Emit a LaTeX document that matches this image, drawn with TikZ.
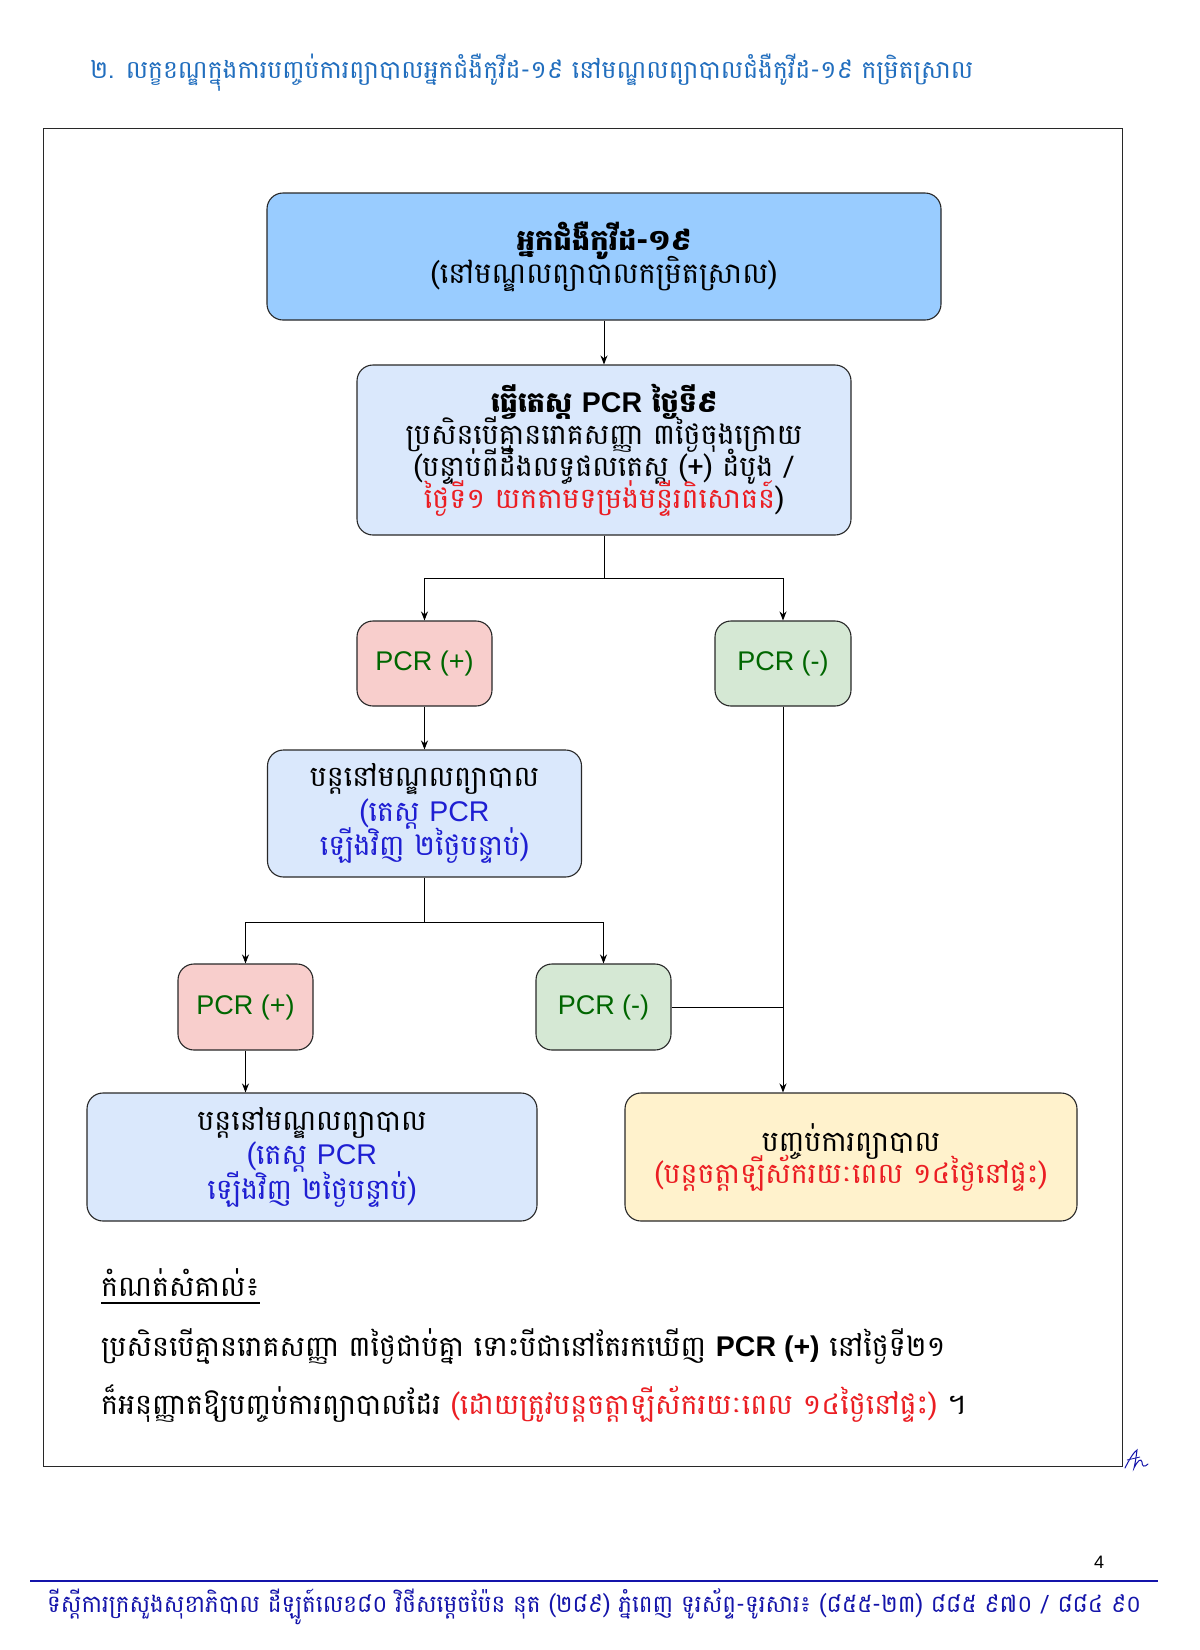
\documentclass[tikz,border=0pt]{standalone}
\usepackage{fontspec}
\setmainfont{Liberation Sans}
\newfontfamily\kh[Script=Khmer]{Battambang}
\newfontfamily\la{Liberation Sans}
\usetikzlibrary{arrows.meta}
\definecolor{titleblue}{RGB}{33,110,190}
\definecolor{bonefill}{RGB}{153,204,255}
\definecolor{btwofill}{RGB}{218,232,252}
\definecolor{pfill}{RGB}{248,206,204}
\definecolor{mfill}{RGB}{213,232,212}
\definecolor{efill}{RGB}{255,242,204}
\definecolor{pcrgreen}{RGB}{0,102,0}
\definecolor{txtred}{RGB}{235,30,35}
\definecolor{txtblue}{RGB}{30,30,210}
\definecolor{footblue}{RGB}{20,20,170}
\definecolor{edge}{RGB}{40,40,40}
\tikzset{
  box/.style={draw=edge, line width=1.1pt, rounded corners=16pt, align=center, inner sep=0pt,
    font=\kh\fontsize{28.5}{32}\selectfont,
    execute at begin node={\lineskiplimit=-100pt\lineskip=0pt\relax}},
  pcrbox/.style={box, text=pcrgreen, font=\la\fontsize{27}{30}\selectfont},
  contbox/.style={box, fill=btwofill, font=\kh\fontsize{28.5}{34.5}\selectfont},
  conn/.style={line width=1pt, draw=black},
  arr/.style={conn, -{Stealth[length=9pt,width=7pt]}},
  notetext/.style={anchor=base west, inner sep=0pt, font=\kh\fontsize{28.5}{30}\selectfont},
}
\begin{document}
\begin{tikzpicture}[x=1pt,y=-1pt]
\useasboundingbox[fill=white] (0,0) rectangle (1200,1650);
% title
\node[anchor=base west, inner sep=0pt, text=titleblue, font=\kh\fontsize{25}{30}\selectfont] (title) at (90,78)
  {២. លក្ខខណ្ឌក្នុងការបញ្ចប់ការព្យាបាលអ្នកជំងឺកូវីដ-១៩ នៅមណ្ឌលព្យាបាលជំងឺកូវីដ-១៩ កម្រិតស្រាល};
% frame
\draw[line width=0.9pt, draw=edge] (43,128) rectangle (1122,1466);
% boxes
\node[box, fill=bonefill, minimum width=674pt, minimum height=127pt, font=\kh\fontsize{29}{33}\selectfont] (b1) at (604,256.5)
  {{\bfseries អ្នកជំងឺកូវីដ-១៩}\\(នៅមណ្ឌលព្យាបាលកម្រិតស្រាល)};
\node[box, fill=btwofill, minimum width=494pt, minimum height=170pt] (b2) at (604,450)
  {{\bfseries ធ្វើតេស្ត {\la\bfseries PCR} ថ្ងៃទី៩}\\
   ប្រសិនបើគ្មានរោគសញ្ញា ៣ថ្ងៃចុងក្រោយ\\
   (បន្ទាប់ពីដឹងលទ្ធផលតេស្ត (+) ដំបូង /\\
   {\color{txtred}ថ្ងៃទី១ យកតាមទម្រង់មន្ទីរពិសោធន៍})};
\node[pcrbox, fill=pfill, minimum width=135pt, minimum height=85pt] (p1) at (424.5,663.5) {PCR (+)};
\node[pcrbox, fill=mfill, minimum width=136pt, minimum height=85pt] (m1) at (783,663.5) {PCR (-)};
\node[contbox, minimum width=314pt, minimum height=127pt] (b3) at (424.5,813.5)
  {បន្តនៅមណ្ឌលព្យាបាល\\
   {\color{txtblue}(តេស្ត {\la PCR}}\\
   {\color{txtblue}ឡើងវិញ ២ថ្ងៃបន្ទាប់)}};
\node[pcrbox, fill=pfill, minimum width=135pt, minimum height=86pt] (p2) at (245.5,1007) {PCR (+)};
\node[pcrbox, fill=mfill, minimum width=135pt, minimum height=86pt] (m2) at (603.5,1007) {PCR (-)};
\node[contbox, minimum width=450pt, minimum height=128pt] (b4) at (312,1157)
  {បន្តនៅមណ្ឌលព្យាបាល\\
   {\color{txtblue}(តេស្ត {\la PCR}}\\
   {\color{txtblue}ឡើងវិញ ២ថ្ងៃបន្ទាប់)}};
\node[box, fill=efill, minimum width=452pt, minimum height=128pt] (e) at (851,1157)
  {បញ្ចប់ការព្យាបាល\\
   {\color{txtred}(បន្តចត្តាឡីស័ករយៈពេល ១៤ថ្ងៃនៅផ្ទះ)}};
% connectors
\coordinate (s1) at (604,578);
\coordinate (s2) at (424.5,922);
\draw[arr] (b1.south) -- (b2.north);
\draw[conn] (b2.south) -- (s1);
\draw[arr] (s1) -| (p1.north);
\draw[arr] (s1) -| (m1.north);
\draw[arr] (p1.south) -- (b3.north);
\draw[conn] (b3.south) -- (s2);
\draw[arr] (s2) -| (p2.north);
\draw[arr] (s2) -| (m2.north);
\draw[arr] (p2.south) -- (p2.south |- b4.north);
\draw[arr] (m1.south) -- (m1.south |- e.north);
\draw[conn] (m2.east) -- (m2.east -| m1.south);
% notes
\node[notetext] (n1) at (101,1296) {កំណត់សំគាល់៖};
\draw[line width=1.2pt] ([yshift=-7pt]n1.base west) -- ([yshift=-7pt]n1.base east);
\node[notetext] (n2) at (101,1356) {ប្រសិនបើគ្មានរោគសញ្ញា ៣ថ្ងៃជាប់គ្នា ទោះបីជានៅតែរកឃើញ {\la\bfseries PCR (+)} នៅថ្ងៃទី២១};
\node[notetext] (n3) at (101,1414) {ក៏អនុញ្ញាតឱ្យបញ្ចប់ការព្យាបាលដែរ {\color{txtred}(ដោយត្រូវបន្តចត្តាឡីស័ករយៈពេល ១៤ថ្ងៃនៅផ្ទះ)} ។};
% signature
\draw[footblue, line width=1pt, line cap=round] (1125,1468) .. controls (1130,1458) and (1134,1452) .. (1137,1450)
  .. controls (1136,1458) and (1135,1464) .. (1134,1468) .. controls (1138,1460) and (1141,1458) .. (1142,1462)
  .. controls (1142,1466) and (1144,1468) .. (1148,1464);
\draw[footblue, line width=0.8pt] (1127,1460) -- (1140,1457);
% page number and footer
\node[anchor=base, inner sep=0pt, font=\la\fontsize{18}{20}\selectfont] (pg) at (1099,1568) {4};
\draw[footblue, line width=1.3pt] (30,1581) -- (1158,1581);
\node[anchor=base west, inner sep=0pt, text=footblue, font=\kh\fontsize{24}{26}\selectfont] (foot) at (47,1612)
  {\scalebox{0.96}[1]{ទីស្តីការក្រសួងសុខាភិបាល ដីឡូត៍លេខ៨០ វិថីសម្តេចប៉ែន នុត (២៨៩) ភ្នំពេញ ទូរស័ព្ទ-ទូរសារ៖ (៨៥៥-២៣) ៨៨៥ ៩៧០ / ៨៨៤ ៩០}};
\end{tikzpicture}
\end{document}
